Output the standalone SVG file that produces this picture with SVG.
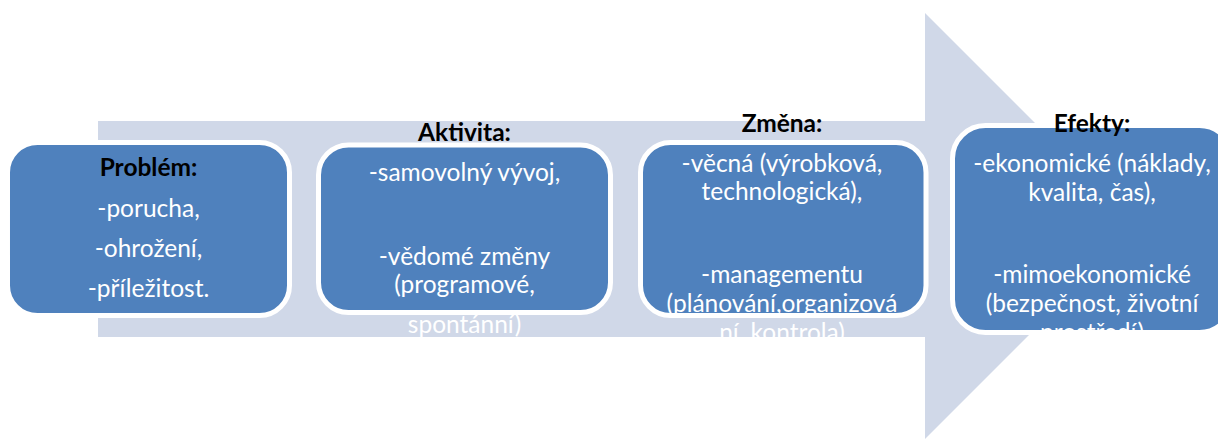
<svg xmlns="http://www.w3.org/2000/svg" width="1218" height="439" viewBox="0 0 1218 439">
<style>
.box{fill:#4F81BD;stroke:#FFFFFF;stroke-width:5}
.hd{font-family:Lato,"Liberation Sans",sans-serif;font-weight:bold;font-size:24.5px;fill:#000000;text-anchor:middle}
.tx{font-family:Lato,"Liberation Sans",sans-serif;font-size:24.5px;fill:#FFFFFF;text-anchor:middle}
</style>
<rect x="0" y="0" width="1218" height="439" fill="#FFFFFF"/>
<g id="arrow">
<polygon points="98,121 925,121 925,13 1138,226 925,439 925,337 98,337" fill="#D0D8E8"/>
</g>
<g id="connectors"></g>
<g id="node-problem">
<rect class="box" x="7.5" y="142.5" width="282" height="173" rx="30" ry="30"/>
<text class="hd" x="148.5" y="176">Problém:</text>
<text class="tx" x="148.5" y="217">-porucha,</text>
<text class="tx" x="148.5" y="257">-ohrožení,</text>
<text class="tx" x="148.5" y="297">-příležitost.</text>
</g>
<g id="node-aktivita">
<rect class="box" x="318.5" y="145" width="292" height="167.5" rx="30" ry="30"/>
<text class="hd" x="464.5" y="141">Aktivita:</text>
<text class="tx" x="464.5" y="181">-samovolný vývoj,</text>
<text class="tx" x="464.5" y="265">-vědomé změny</text>
<text class="tx" x="464.5" y="293">(programové,</text>
<text class="tx" x="464.5" y="333">spontánní)</text>
</g>
<g id="node-zmena">
<rect class="box" x="640.5" y="142.5" width="285.5" height="173" rx="30" ry="30"/>
<text class="hd" x="782" y="132">Změna:</text>
<text class="tx" x="782" y="172">-věcná (výrobková,</text>
<text class="tx" x="782" y="200">technologická),</text>
<text class="tx" x="782" y="283">-managementu</text>
<text class="tx" x="782" y="312">(plánování,organizová</text>
<text class="tx" x="782" y="341">ní, kontrola)</text>
</g>
<g id="node-efekty">
<rect class="box" x="952.5" y="125.5" width="280" height="207" rx="33" ry="33"/>
<text class="hd" x="1092" y="132">Efekty:</text>
<text class="tx" x="1092" y="172">-ekonomické (náklady,</text>
<text class="tx" x="1092" y="201">kvalita, čas),</text>
<text class="tx" x="1092" y="283">-mimoekonomické</text>
<text class="tx" x="1092" y="312">(bezpečnost, životní</text>
<text class="tx" x="1092" y="341">prostředí)</text>
</g>
</svg>
